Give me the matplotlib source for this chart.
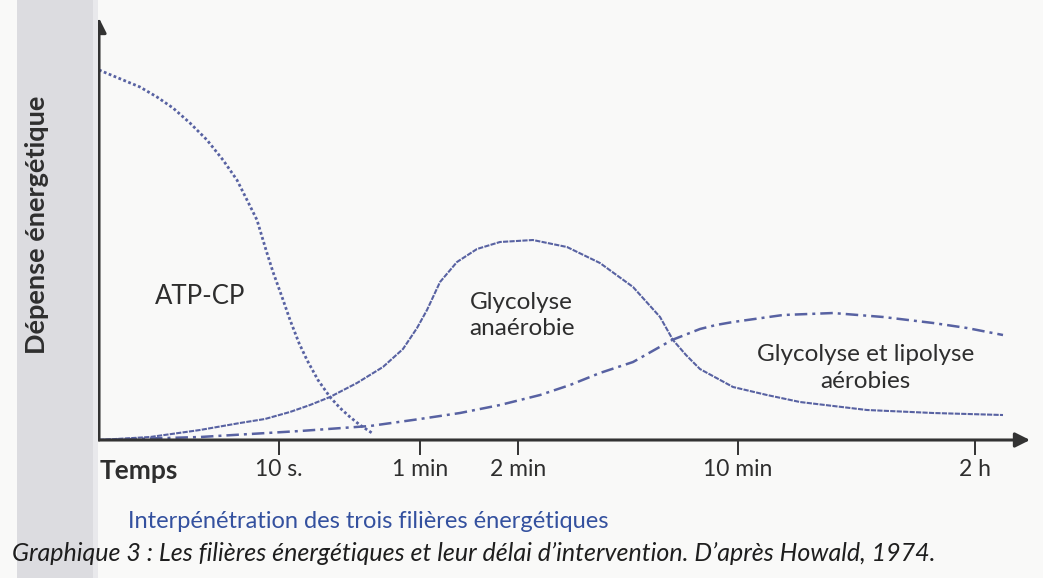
import matplotlib
matplotlib.use("Agg")
import matplotlib.pyplot as plt
from matplotlib.patches import Rectangle

# ---- data (abstract units: x 0..100 along the time axis, y 0..100 energy) ----
tick_pos = [19.3, 34.5, 45.0, 68.6, 94.1]
tick_labels = ["10 s.", "1 min", "2 min", "10 min", "2 h"]

atp_x = [0, 2.58, 4.40, 6.23, 7.95, 9.77, 11.60, 13.32, 14.82, 15.90, 16.97, 17.94,
         18.69, 19.66, 20.52, 21.48, 22.34, 23.52, 24.81, 25.89, 26.96, 28.03, 29.32]
atp_y = [87.68, 85.31, 83.65, 81.28, 78.67, 75.12, 71.09, 66.35, 61.61, 56.87, 52.13, 45.02,
         39.81, 33.89, 28.44, 22.99, 18.96, 14.22, 10.19, 7.58, 5.45, 3.55, 1.66]

ana_x = [0, 5.48, 10.85, 15.15, 17.83, 20.52, 22.66, 24.81, 27.71, 30.50, 32.65, 34.16,
         35.23, 36.63, 38.45, 40.60, 43.07, 46.61, 50.27, 53.81, 57.36, 60.26, 61.65,
         63.05, 64.55, 68.10, 71.75, 75.30, 82.49, 89.58, 97.10]
ana_y = [0, 0.71, 2.37, 4.03, 4.98, 6.64, 8.29, 10.19, 13.51, 17.30, 21.56, 26.54,
         30.81, 37.44, 42.18, 45.26, 46.92, 47.39, 45.73, 41.94, 36.26, 29.15, 23.70,
         20.14, 16.82, 12.56, 10.66, 9.00, 7.11, 6.40, 5.92]

aer_x = [0, 10.85, 21.59, 29.11, 34.48, 38.78, 43.07, 47.37, 50.59, 53.81, 57.36, 61.55,
         64.55, 66.27, 68.10, 73.47, 78.84, 84.21, 89.58, 93.23, 97.10]
aer_y = [0, 0.71, 2.13, 3.32, 4.98, 6.40, 8.29, 10.66, 13.03, 15.88, 18.48, 23.70,
         26.30, 27.25, 27.96, 29.62, 30.09, 29.15, 27.73, 26.54, 24.88]

W, H = 1043, 578
fig = plt.figure(figsize=(W / 100, H / 100), dpi=100)
fig.patch.set_facecolor("#f9f9f8")
# scanned-page grey band on the left
fig.patches.append(Rectangle((17 / W, 0), 76 / W, 1, transform=fig.transFigure,
                             facecolor="#dcdce0", edgecolor="none", zorder=0))
fig.patches.append(Rectangle((93 / W, 0), 5 / W, 1, transform=fig.transFigure,
                             facecolor="#e9e9ec", edgecolor="none", zorder=0))

FONT = ["Lato", "DejaVu Sans"]
TXT = "#2e2e2e"
LINE = "#5862a2"
AX = "#333333"

ax = fig.add_axes([99 / W, (H - 440) / H, 931 / W, 422 / H])
ax.set_facecolor("none")
ax.set_xlim(0, 100)
ax.set_ylim(0, 100)
for s in ax.spines.values():
    s.set_visible(False)

ax.plot(atp_x, atp_y, color=LINE, lw=2.0, linestyle=(0, (1, 0.9)))
ax.plot(ana_x, ana_y, color=LINE, lw=1.5, linestyle=(0, (2.5, 0.6)))
ax.plot(aer_x, aer_y, color=LINE, lw=1.8, linestyle=(0, (5, 2, 1.2, 2)))

# axes with arrows
ax.annotate("", xy=(1.0, 0), xytext=(0, 0), xycoords="axes fraction",
            arrowprops=dict(arrowstyle="-|>", lw=2.2, color=AX, mutation_scale=22,
                            shrinkA=0, shrinkB=0), annotation_clip=False)
ax.annotate("", xy=(0, 1.0), xytext=(0, 0), xycoords="axes fraction",
            arrowprops=dict(arrowstyle="-|>", lw=2.2, color=AX, mutation_scale=22,
                            shrinkA=0, shrinkB=0), annotation_clip=False)

ax.set_yticks([])
ax.set_xticks(tick_pos, tick_labels)
ax.tick_params(axis="x", direction="out", length=11, width=1.4, color=AX, pad=3,
               labelsize=16.5, labelcolor=TXT)
for lab in ax.get_xticklabels():
    lab.set_family(FONT)

# curve labels
ax.text(10.85, 33.9, "ATP-CP", ha="center", va="center", fontsize=18.5, color=TXT, family=FONT)
ax.text(45.4, 29.6, "Glycolyse\nanaérobie", ha="center", va="center", fontsize=17.5,
        color=TXT, family=FONT, linespacing=1.3)
ax.text(82.3, 17.1, "Glycolyse et lipolyse\naérobies", ha="center", va="center",
        fontsize=17.5, color=TXT, family=FONT, linespacing=1.35)

# axis titles and captions
fig.text(100 / W, 1 - 471 / H, "Temps", ha="left", va="center", fontsize=19,
         fontweight="bold", color=TXT, family=FONT)
fig.text(37 / W, 1 - 225 / H, "Dépense énergétique", ha="center", va="center",
         rotation=90, fontsize=19.5, fontweight="bold", color=TXT, family=FONT)
fig.text(128 / W, 1 - 522 / H, "Interpénétration des trois filières énergétiques",
         ha="left", va="center", fontsize=17, color="#34519f", family=FONT)
fig.text(12 / W, 1 - 553 / H,
         "Graphique 3 : Les filières énergétiques et leur délai d’intervention. D’après Howald, 1974.",
         ha="left", va="center", fontsize=18, style="italic", color="#1e1e1e", family=FONT)

fig.savefig("out.png", dpi=100, facecolor=fig.get_facecolor())
